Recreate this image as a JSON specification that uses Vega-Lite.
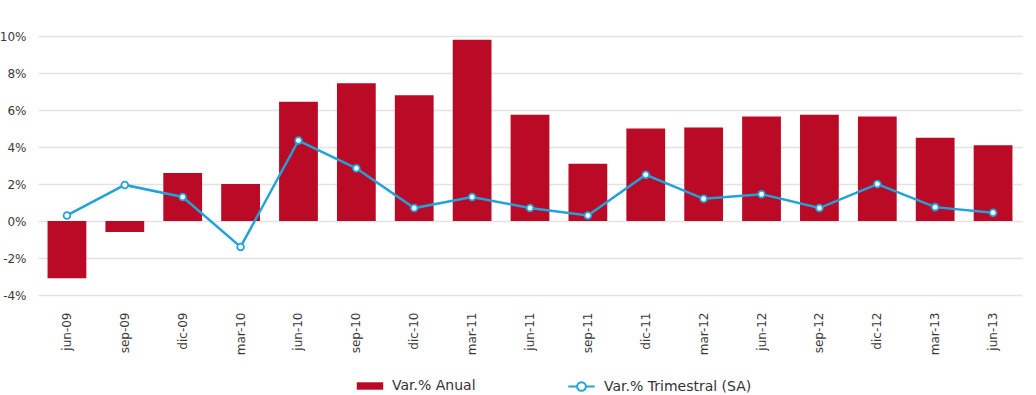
{
  "$schema": "https://vega.github.io/schema/vega-lite/v6.json",
  "width": 984,
  "height": 259,
  "autosize": {"type": "none"},
  "padding": {"left": 38, "top": 36, "right": 14, "bottom": 100},
  "background": "white",
  "config": {
    "view": {"stroke": null},
    "font": "DejaVu Sans",
    "axis": {"labelFont": "DejaVu Sans", "labelColor": "#3a3a3a", "labelFontSize": 12},
    "legend": {"labelFont": "DejaVu Sans", "labelColor": "#333", "labelFontSize": 14}
  },
  "data": {
    "values": [
      {"fecha": "jun-09", "anual": -3.1, "trimestral": 0.3},
      {"fecha": "sep-09", "anual": -0.6, "trimestral": 1.95},
      {"fecha": "dic-09", "anual": 2.6, "trimestral": 1.3},
      {"fecha": "mar-10", "anual": 2.0, "trimestral": -1.4},
      {"fecha": "jun-10", "anual": 6.45, "trimestral": 4.35},
      {"fecha": "sep-10", "anual": 7.45, "trimestral": 2.85},
      {"fecha": "dic-10", "anual": 6.8, "trimestral": 0.7},
      {"fecha": "mar-11", "anual": 9.8, "trimestral": 1.3},
      {"fecha": "jun-11", "anual": 5.75, "trimestral": 0.7},
      {"fecha": "sep-11", "anual": 3.1, "trimestral": 0.3},
      {"fecha": "dic-11", "anual": 5.0, "trimestral": 2.5},
      {"fecha": "mar-12", "anual": 5.05, "trimestral": 1.2},
      {"fecha": "jun-12", "anual": 5.65, "trimestral": 1.45},
      {"fecha": "sep-12", "anual": 5.75, "trimestral": 0.7},
      {"fecha": "dic-12", "anual": 5.65, "trimestral": 2.0},
      {"fecha": "mar-13", "anual": 4.5, "trimestral": 0.75},
      {"fecha": "jun-13", "anual": 4.1, "trimestral": 0.45}
    ]
  },
  "encoding": {
    "x": {
      "field": "fecha", "type": "ordinal", "sort": null, "title": null,
      "scale": {"paddingInner": 0.33, "paddingOuter": 0.165},
      "axis": {"labelAngle": -90, "domain": false, "ticks": false, "labelPadding": 17, "grid": false}
    }
  },
  "layer": [
    {
      "mark": {"type": "bar"},
      "encoding": {
        "y": {
          "field": "anual", "type": "quantitative", "title": null,
          "scale": {"domain": [-4, 10], "nice": false},
          "axis": {"values": [-4, -2, 0, 2, 4, 6, 8, 10], "labelExpr": "datum.value + '%'", "labelOverlap": false, "labelBound": false, "labelFlush": false, "domain": false, "ticks": false, "gridColor": "#e3e3e3", "gridWidth": 1.5, "labelPadding": 12}
        },
        "fill": {
          "datum": "Var.% Anual", "type": "nominal",
          "scale": {"range": ["#BA0A26"]},
          "legend": {"title": null, "orient": "none", "legendX": 318, "legendY": 336, "symbolType": "M-1,-0.28H1V0.28H-1Z", "symbolSize": 700, "labelOffset": 8}
        }
      }
    },
    {
      "mark": {"type": "rule", "color": "#111", "strokeWidth": 1.5},
      "encoding": {
        "y": {
          "datum": 0, "type": "quantitative", "title": null,
          "axis": {"values": [-4, -2, 0, 2, 4, 6, 8, 10], "labelExpr": "datum.value + '%'", "labelOverlap": false, "labelBound": false, "labelFlush": false, "domain": false, "ticks": false, "gridColor": "#e3e3e3", "gridWidth": 1.5, "labelPadding": 12}
        }
      }
    },
    {
      "mark": {"type": "line", "strokeWidth": 2.5},
      "encoding": {
        "y": {
          "field": "trimestral", "type": "quantitative", "title": null,
          "axis": {"values": [-4, -2, 0, 2, 4, 6, 8, 10], "labelExpr": "datum.value + '%'", "labelOverlap": false, "labelBound": false, "labelFlush": false, "domain": false, "ticks": false, "gridColor": "#e3e3e3", "gridWidth": 1.5, "labelPadding": 12}
        },
        "stroke": {
          "datum": "Var.% Trimestral (SA)", "type": "nominal",
          "scale": {"range": ["#21A3DA"]},
          "legend": {"title": null, "orient": "none", "legendX": 529, "legendY": 336, "symbolType": "M-1,0L-0.33,0M0.33,0L1,0M0.33,0A0.33,0.33 0 1 1 -0.33,0A0.33,0.33 0 1 1 0.33,0", "symbolSize": 700, "symbolFillColor": "white", "symbolStrokeWidth": 2, "labelOffset": 8}
        }
      }
    },
    {
      "mark": {"type": "point", "filled": true, "fill": "white", "stroke": "#21A3DA", "strokeWidth": 1.8, "size": 45, "opacity": 1},
      "encoding": {
        "y": {
          "field": "trimestral", "type": "quantitative", "title": null,
          "axis": {"values": [-4, -2, 0, 2, 4, 6, 8, 10], "labelExpr": "datum.value + '%'", "labelOverlap": false, "labelBound": false, "labelFlush": false, "domain": false, "ticks": false, "gridColor": "#e3e3e3", "gridWidth": 1.5, "labelPadding": 12}
        }
      }
    }
  ]
}
